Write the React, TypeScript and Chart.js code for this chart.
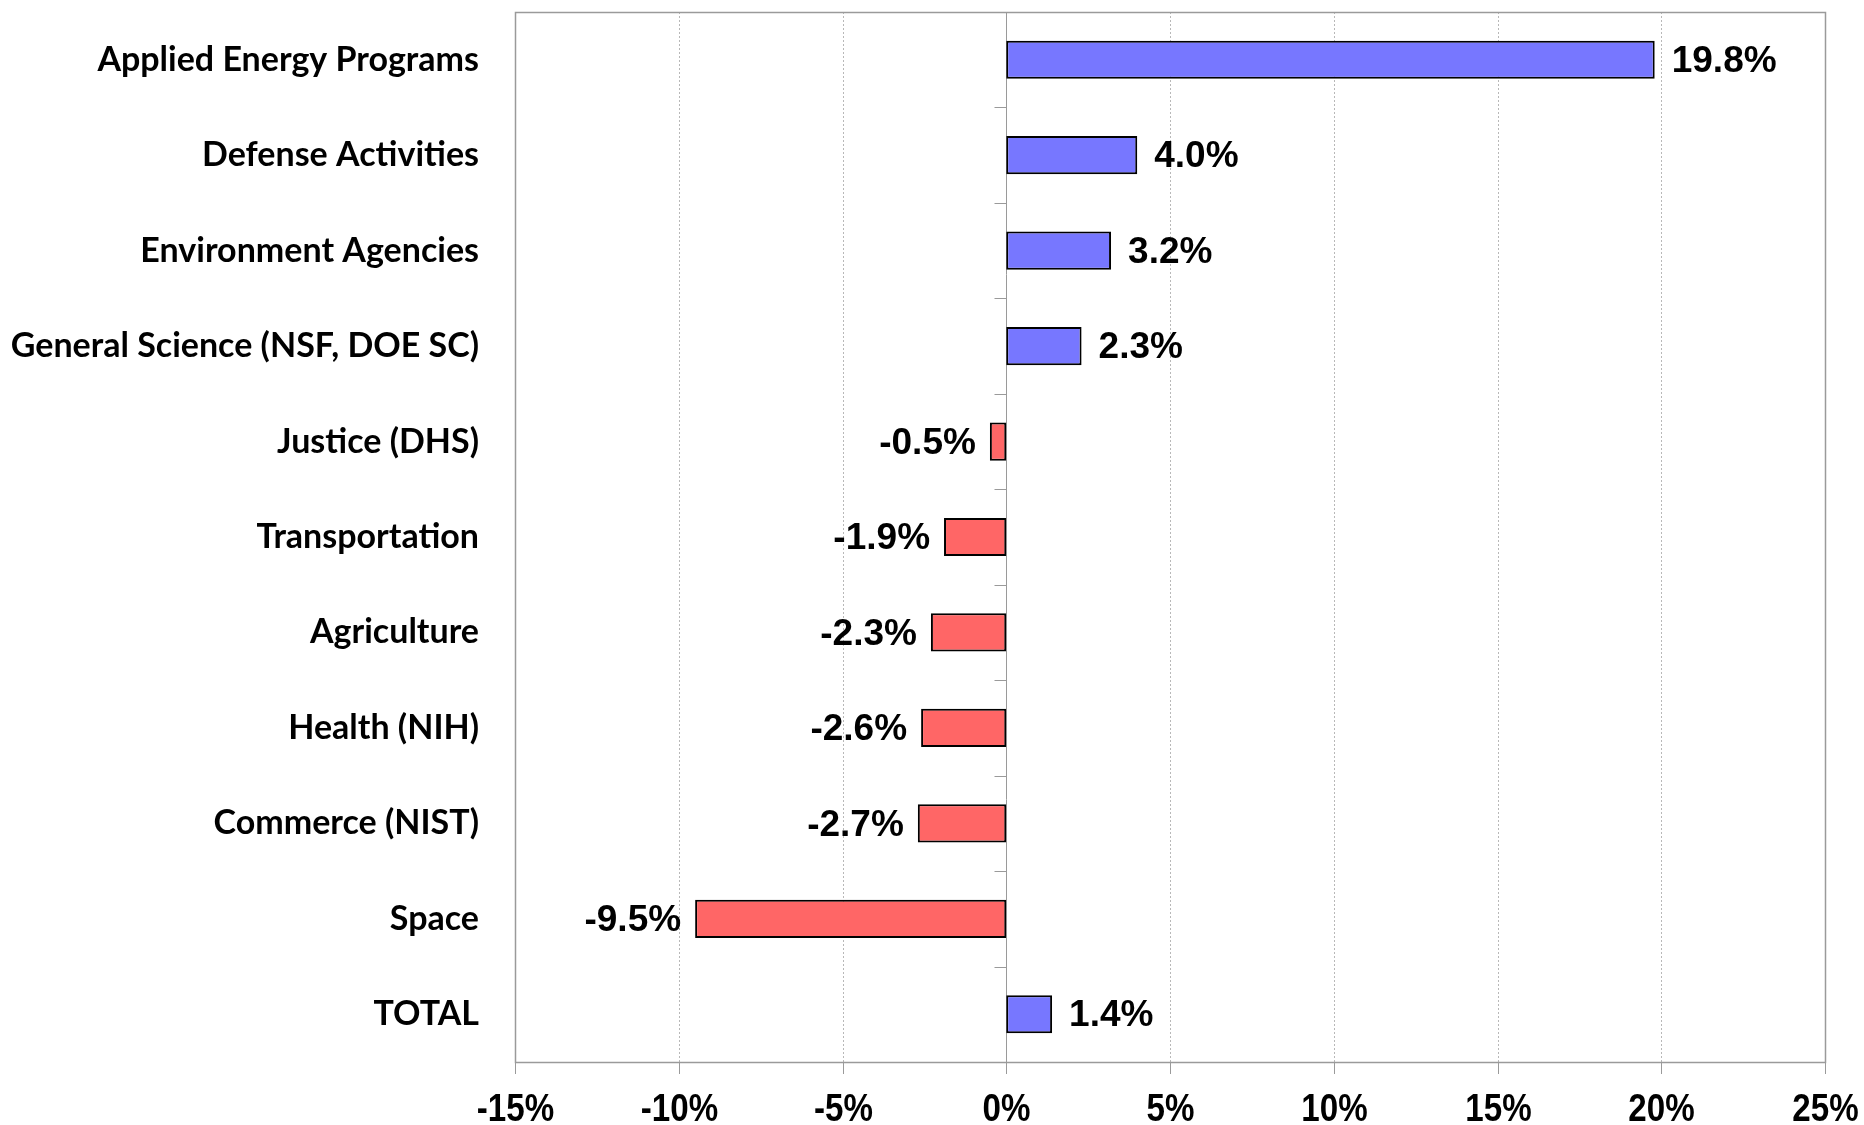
import React, { useEffect, useRef } from "react";
import { Chart, registerables } from "chart.js";

Chart.register(...registerables);

const categories = [
  "Applied Energy Programs",
  "Defense Activities",
  "Environment Agencies",
  "General Science (NSF, DOE SC)",
  "Justice (DHS)",
  "Transportation",
  "Agriculture",
  "Health (NIH)",
  "Commerce (NIST)",
  "Space",
  "TOTAL",
];
const changes = [19.8, 4.0, 3.2, 2.3, -0.5, -1.9, -2.3, -2.6, -2.7, -9.5, 1.4];
const xMin = -15;
const xMax = 25;
const xStep = 5;

const POS_COLOR = "#7777FF";
const NEG_COLOR = "#FF6666";
const FRAME_COLOR = "#9a9a9a";
const GRID_COLOR = "#b8b8b8";

const framePlugin = {
  id: "framePlugin",
  beforeDatasetsDraw(chart: any) {
    const { ctx, chartArea: a, scales } = chart;
    const x = scales.x;
    const y = scales.y;
    const line = (x1: number, y1: number, x2: number, y2: number) => {
      ctx.beginPath();
      ctx.moveTo(x1, y1);
      ctx.lineTo(x2, y2);
      ctx.stroke();
    };
    ctx.save();
    ctx.lineWidth = 1;
    ctx.strokeStyle = GRID_COLOR;
    ctx.setLineDash([2, 2]);
    x.ticks.forEach((t: any) => {
      if (t.value === 0 || t.value === x.min || t.value === x.max) return;
      const px = Math.round(x.getPixelForValue(t.value)) + 0.5;
      line(px, a.top, px, a.bottom);
    });
    ctx.setLineDash([]);
    ctx.strokeStyle = FRAME_COLOR;
    ctx.lineWidth = 1.5;
    ctx.strokeRect(Math.round(a.left) + 0.5, Math.round(a.top) + 0.5, Math.round(a.right - a.left), Math.round(a.bottom - a.top));
    ctx.lineWidth = 1;
    const z = Math.round(x.getPixelForValue(0)) + 0.5;
    line(z, a.top, z, a.bottom);
    for (let i = 0; i <= categories.length; i++) {
      const yy = Math.round(y.getPixelForValue(i - 0.5)) + 0.5;
      line(z - 12, yy, z, yy);
    }
    // x tick marks and condensed tick labels
    ctx.fillStyle = "#000";
    ctx.font = "bold 39px 'Liberation Sans', Arial, sans-serif";
    ctx.textAlign = "center";
    ctx.textBaseline = "alphabetic";
    x.ticks.forEach((t: any) => {
      const px = Math.round(x.getPixelForValue(t.value)) + 0.5;
      line(px, a.bottom, px, a.bottom + 12);
      ctx.save();
      ctx.translate(px, a.bottom + 59);
      ctx.scale(0.85, 1);
      ctx.fillText(t.value + "%", 0, 0);
      ctx.restore();
    });
    ctx.restore();
  },
};

const labelPlugin = {
  id: "labelPlugin",
  afterDatasetsDraw(chart: any) {
    const { ctx } = chart;
    const meta = chart.getDatasetMeta(0);
    ctx.save();
    ctx.font = "bold 37px 'Liberation Sans', Arial, sans-serif";
    ctx.fillStyle = "#000";
    ctx.textBaseline = "middle";
    meta.data.forEach((bar: any, i: number) => {
      const v = changes[i];
      const txt = v.toFixed(1) + "%";
      if (v >= 0) {
        ctx.textAlign = "left";
        ctx.fillText(txt, bar.x + 17, bar.y + 2);
      } else {
        ctx.textAlign = "right";
        ctx.fillText(txt, bar.x - 14, bar.y + 2);
      }
    });
    ctx.restore();
  },
};

export default function App() {
  const ref = useRef<HTMLCanvasElement>(null);
  useEffect(() => {
    if (!ref.current) return;
    const chart = new Chart(ref.current, {
      type: "bar",
      data: {
        labels: categories,
        datasets: [
          {
            data: changes,
            backgroundColor: changes.map((v) => (v >= 0 ? POS_COLOR : NEG_COLOR)),
            borderColor: "#000",
            borderWidth: 2,
            borderSkipped: false,
            barPercentage: 0.4,
            categoryPercentage: 1,
          },
        ],
      },
      options: {
        indexAxis: "y",
        animation: false,
        responsive: false,
        maintainAspectRatio: false,
        layout: { padding: { top: 12, right: 39, left: 0, bottom: 0 } },
        plugins: {
          legend: { display: false },
          tooltip: { enabled: false },
        },
        scales: {
          x: {
            min: xMin,
            max: xMax,
            grid: { display: false, drawTicks: false },
            border: { display: false },
            ticks: {
              stepSize: xStep,
              display: false,
            },
            afterFit: (s: any) => {
              s.height = 63;
              s.paddingLeft = 0;
              s.paddingRight = 0;
            },
          },
          y: {
            grid: { display: false, drawTicks: false },
            border: { display: false },
            ticks: {
              color: "#000",
              padding: 36,
              font: { family: "Lato, 'Open Sans', sans-serif", size: 34, weight: "bold" },
            },
            afterFit: (s: any) => {
              s.width = 515;
              s.paddingTop = 0;
              s.paddingBottom = 0;
            },
          },
        },
      },
      plugins: [framePlugin, labelPlugin],
    });
    return () => chart.destroy();
  }, []);
  return (
    <div style={{ position: "fixed", left: 0, top: 0, width: 1864, height: 1125, background: "#fff" }}>
      <canvas ref={ref} width={1864} height={1125} style={{ width: 1864, height: 1125 }} />
    </div>
  );
}
